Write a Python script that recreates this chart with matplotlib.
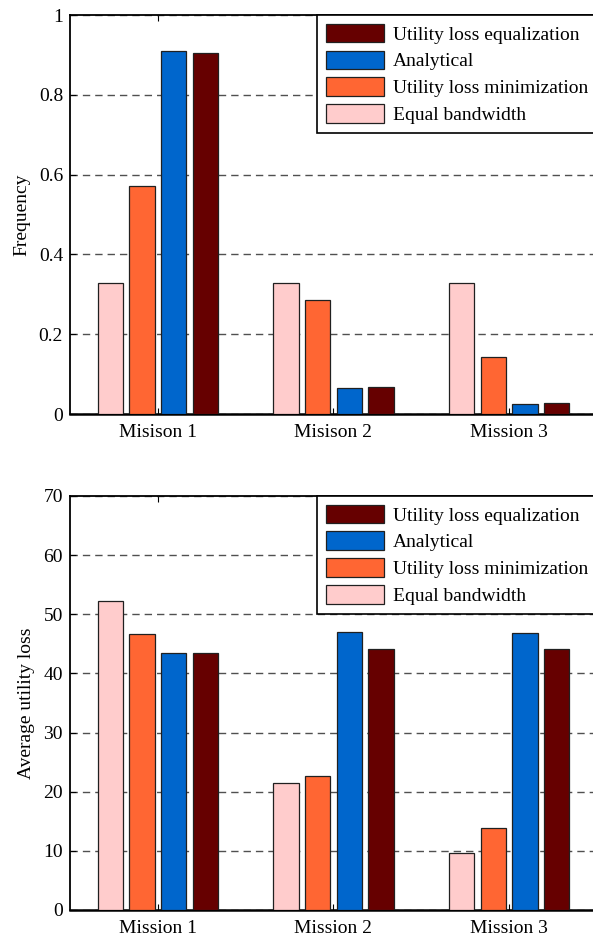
import numpy as np
import matplotlib
matplotlib.use("Agg")
import matplotlib.pyplot as plt

# ============================================================
# Podatki
# ============================================================

missions_freq = ["Misison 1", "Misison 2", "Mission 3"]
missions_loss = ["Mission 1", "Mission 2", "Mission 3"]

series_names = [
    "Equal bandwidth",
    "Utility loss minimization",
    "Analytical",
    "Utility loss equalization",
]
series_colors = ["#FFCCCC", "#FF6633", "#0066CC", "#660000"]

freq_equal = [0.329, 0.329, 0.329]
freq_min = [0.572, 0.285, 0.142]
freq_analytical = [0.911, 0.064, 0.024]
freq_equalization = [0.905, 0.068, 0.028]

loss_equal = [52.2, 21.5, 9.7]
loss_min = [46.6, 22.7, 13.8]
loss_analytical = [43.4, 47.0, 46.8]
loss_equalization = [43.4, 44.1, 44.1]

freq_ticks = [0, 0.2, 0.4, 0.6, 0.8, 1]
freq_ticklabels = ["0", "0.2", "0.4", "0.6", "0.8", "1"]
loss_ticks = [0, 10, 20, 30, 40, 50, 60, 70]

plt.rcParams["font.family"] = ["Liberation Serif", "DejaVu Serif"]
plt.rcParams["font.size"] = 14

offsets = [-0.27, -0.09, 0.09, 0.27]
bar_w = 0.145


def draw_panel(ax, groups, labels, ylim, ticks, ticklabels, ylabel):
    x = np.arange(1, len(labels) + 1)

    for vals, name, col, off in zip(groups, series_names, series_colors, offsets):
        ax.bar(
            x + off,
            vals,
            width=bar_w,
            color=col,
            edgecolor="#202020",
            linewidth=0.9,
            label=name,
            zorder=3,
        )

    ax.set_xlim(0.5, 3.5)
    ax.set_ylim(*ylim)
    ax.set_xticks(x)
    ax.set_xticklabels(labels)
    ax.set_yticks(ticks)
    ax.set_yticklabels(ticklabels)
    ax.set_ylabel(ylabel, labelpad=6)

    ax.yaxis.grid(True, linestyle=(0, (5.3, 3.6)), color="#505050", linewidth=1.0)
    ax.set_axisbelow(True)

    ax.tick_params(direction="in", length=4, width=0.8, top=True, pad=5)
    ax.tick_params(axis="x", pad=7.5)
    for side in ["left", "bottom", "top", "right"]:
        ax.spines[side].set_linewidth(1.3)
    ax.spines["bottom"].set_linewidth(1.8)

    # legenda v obratnem vrstnem redu
    h, l = ax.get_legend_handles_labels()
    leg = ax.legend(
        h[::-1],
        l[::-1],
        loc="upper right",
        bbox_to_anchor=(1.0, 1.0),
        borderaxespad=0.0,
        fancybox=False,
        framealpha=1,
        edgecolor="black",
        handlelength=3.0,
        handleheight=1.1,
        handletextpad=0.45,
        labelspacing=0.35,
        borderpad=0.45,
        fontsize=14,
    )
    leg.get_frame().set_linewidth(1.2)
    leg.set_zorder(5)


fig = plt.figure(figsize=(5.93, 9.38), dpi=100)

ax1 = fig.add_axes([0.118, 0.5586, 0.8887, 0.4254])
ax2 = fig.add_axes([0.118, 0.0299, 0.8887, 0.4414])

draw_panel(
    ax1,
    [freq_equal, freq_min, freq_analytical, freq_equalization],
    missions_freq,
    (0, 1),
    freq_ticks,
    freq_ticklabels,
    "Frequency",
)

draw_panel(
    ax2,
    [loss_equal, loss_min, loss_analytical, loss_equalization],
    missions_loss,
    (0, 70),
    loss_ticks,
    [str(t) for t in loss_ticks],
    "Average utility loss",
)

fig.savefig("out.png", dpi=100)
